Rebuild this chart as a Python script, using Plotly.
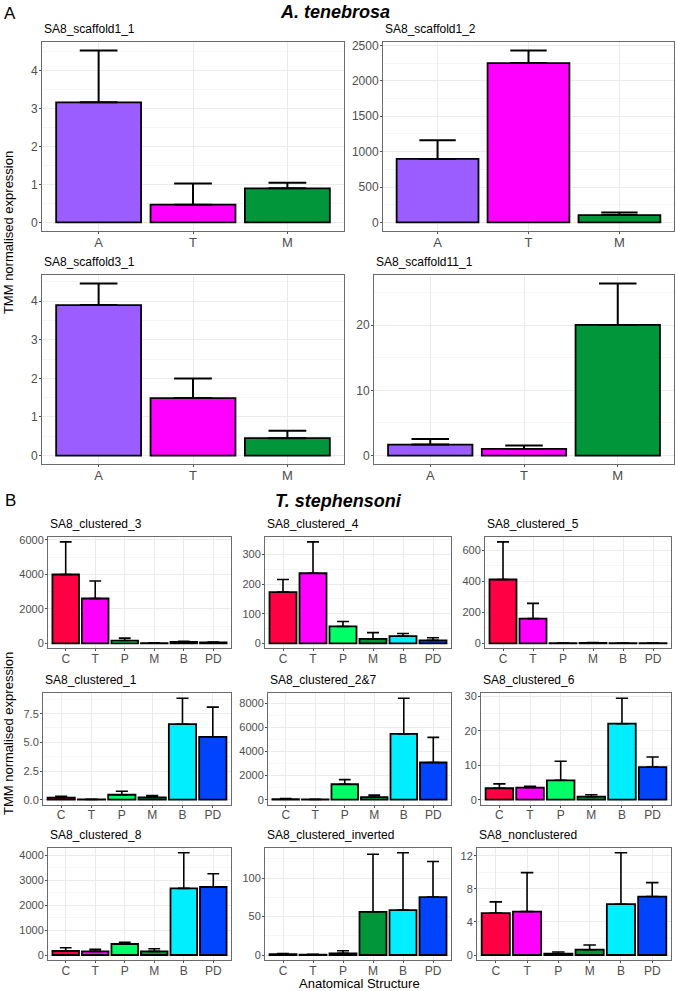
import plotly.graph_objects as go

W, H = 676, 991

# ---------------- Data ----------------
# Panel A: A. tenebrosa
a_categories = ["A", "T", "M"]
a_colors = ["#9B5DFF", "#FF00FF", "#009639"]

scaffold1_1_mean = [3.17, 0.47, 0.90]
scaffold1_1_upper = [4.54, 1.03, 1.05]
scaffold1_2_mean = [897, 2252, 104]
scaffold1_2_upper = [1163, 2430, 140]
scaffold3_1_mean = [3.90, 1.49, 0.45]
scaffold3_1_upper = [4.46, 2.00, 0.645]
scaffold11_1_mean = [1.68, 1.02, 20.05]
scaffold11_1_upper = [2.54, 1.53, 26.4]

# Panel B: T. stephensoni
b_categories = ["C", "T", "P", "M", "B", "PD"]
b_colors = ["#FF0044", "#FF00FF", "#00FF66", "#009639", "#00EEFF", "#0044FF"]

clustered_3_mean = [3990, 2600, 160, 12, 80, 50]
clustered_3_upper = [5880, 3610, 300, 28, 110, 75]
clustered_4_mean = [173, 237, 57, 15, 24, 10]
clustered_4_upper = [216, 343, 74, 36, 33, 19]
clustered_5_mean = [411, 159, 1, 2, 1, 1]
clustered_5_upper = [653, 257, 2, 5, 2, 2]
clustered_1_mean = [0.18, 0.02, 0.43, 0.20, 6.58, 5.48]
clustered_1_upper = [0.30, 0.03, 0.74, 0.35, 8.84, 8.07]
clustered_2_7_mean = [50, 20, 1279, 213, 5459, 3082]
clustered_2_7_upper = [90, 30, 1664, 377, 8410, 5164]
clustered_6_mean = [3.33, 3.53, 5.63, 0.86, 22.1, 9.48]
clustered_6_upper = [4.6, 3.9, 11.2, 1.44, 29.5, 12.4]
clustered_8_mean = [160, 147, 440, 147, 2667, 2720]
clustered_8_upper = [293, 227, 507, 253, 4093, 3253]
clustered_inv_mean = [1.0, 0.5, 2.1, 56.2, 58.4, 75.3]
clustered_inv_upper = [2.0, 1.0, 5.6, 131, 133, 121.5]
nonclustered_mean = [5.06, 5.25, 0.16, 0.64, 6.14, 7.06]
nonclustered_upper = [6.42, 9.95, 0.36, 1.20, 12.36, 8.75]

# ---------------- Layout of panels (pixel boxes: x0, x1, y0, y1) ----------------
panels = [
    ("SA8_scaffold1_1", a_categories, a_colors, scaffold1_1_mean, scaffold1_1_upper, (42, 344, 39, 229), 1, None, 2.0, 12),
    ("SA8_scaffold1_2", a_categories, a_colors, scaffold1_2_mean, scaffold1_2_upper, (383, 674, 39, 229), 500, None, 2.0, 12),
    ("SA8_scaffold3_1", a_categories, a_colors, scaffold3_1_mean, scaffold3_1_upper, (42, 344, 273, 463), 1, None, 2.0, 12),
    ("SA8_scaffold11_1", a_categories, a_colors, scaffold11_1_mean, scaffold11_1_upper, (374, 674, 273, 463), 10, None, 2.0, 12),
    ("SA8_clustered_3", b_categories, b_colors, clustered_3_mean, clustered_3_upper, (48, 231, 536, 648), 2000, None, 1.6, 11),
    ("SA8_clustered_4", b_categories, b_colors, clustered_4_mean, clustered_4_upper, (265, 451, 536, 648), 100, None, 1.6, 11),
    ("SA8_clustered_5", b_categories, b_colors, clustered_5_mean, clustered_5_upper, (485, 671, 536, 648), 200, None, 1.6, 11),
    ("SA8_clustered_1", b_categories, b_colors, clustered_1_mean, clustered_1_upper, (43, 231, 693, 805), 2.5, ".1f", 1.6, 11),
    ("SA8_clustered_2&7", b_categories, b_colors, clustered_2_7_mean, clustered_2_7_upper, (268, 451, 693, 805), 2000, None, 1.6, 11),
    ("SA8_clustered_6", b_categories, b_colors, clustered_6_mean, clustered_6_upper, (481, 671, 693, 805), 10, None, 1.6, 11),
    ("SA8_clustered_8", b_categories, b_colors, clustered_8_mean, clustered_8_upper, (48, 231, 848, 961), 1000, None, 1.6, 11),
    ("SA8_clustered_inverted", b_categories, b_colors, clustered_inv_mean, clustered_inv_upper, (265, 451, 848, 961), 50, None, 1.6, 11),
    ("SA8_nonclustered", b_categories, b_colors, nonclustered_mean, nonclustered_upper, (477, 671, 848, 961), 4, None, 1.6, 11),
]

FONT = "Liberation Sans, Arial, sans-serif"
fig = go.Figure()
layout = dict(
    width=W, height=H,
    margin=dict(l=0, r=0, t=0, b=0),
    paper_bgcolor="white", plot_bgcolor="white",
    showlegend=False, bargap=0.1,
    font=dict(family=FONT, color="black"),
)
annotations = []

for i, (name, cats, cols, mean, upper, box, dtick, tfmt, thick, fs) in enumerate(panels, start=1):
    x0, x1, y0, y1 = box
    n = len(cats)
    unit_px = (x1 - x0) / (n + 0.2)
    xa = "x" if i == 1 else f"x{i}"
    ya = "y" if i == 1 else f"y{i}"
    fig.add_trace(go.Bar(
        x=cats, y=mean, xaxis=xa, yaxis=ya,
        marker=dict(color=cols, line=dict(color="black", width=1.8)),
        error_y=dict(type="data", symmetric=False,
                     array=[u - m for u, m in zip(upper, mean)],
                     arrayminus=[0] * n,
                     color="black", thickness=thick, width=0.2 * unit_px),
        hoverinfo="skip",
    ))
    top = max(upper)
    xkey = "xaxis" if i == 1 else f"xaxis{i}"
    ykey = "yaxis" if i == 1 else f"yaxis{i}"
    layout[xkey] = dict(
        domain=[x0 / W, x1 / W], anchor=ya, type="category",
        categoryorder="array", categoryarray=cats,
        range=[-0.6, n - 0.4],
        showgrid=True, gridcolor="#EBEBEB", gridwidth=1,
        showline=True, mirror=True, linecolor="#6b6b6b", linewidth=1,
        ticks="outside", ticklen=2, tickcolor="#4d4d4d",
        ticklabelstandoff=-3,
        tickfont=dict(size=fs + 1, color="#4d4d4d", family=FONT),
        zeroline=False, fixedrange=True,
    )
    yax = dict(
        domain=[1 - y1 / H, 1 - y0 / H], anchor=xa,
        range=[-0.05 * top, 1.05 * top],
        tickmode="linear", tick0=0, dtick=dtick,
        showgrid=True, gridcolor="#EBEBEB", gridwidth=1,
        minor=dict(dtick=dtick / 2, tick0=0, showgrid=True, gridcolor="#F5F5F5", gridwidth=0.6),
        showline=True, mirror=True, linecolor="#6b6b6b", linewidth=1,
        ticks="outside", ticklen=2, tickcolor="#4d4d4d",
        ticklabelstandoff=-1,
        tickfont=dict(size=fs, color="#4d4d4d", family=FONT),
        zeroline=False, fixedrange=True,
    )
    if tfmt:
        yax["tickformat"] = tfmt
    layout[ykey] = yax
    annotations.append(dict(
        text=name, x=x0 / W, y=1 - (y0 - 4) / H, xref="paper", yref="paper",
        xanchor="left", yanchor="bottom", showarrow=False,
        font=dict(size=12, color="black", family=FONT),
    ))

def paper_text(text, xp, yp, size, **kw):
    d = dict(text=text, x=xp / W, y=1 - yp / H, xref="paper", yref="paper",
             xanchor="center", yanchor="middle", showarrow=False,
             font=dict(size=size, color="black", family=FONT))
    d.update(kw)
    return d

annotations += [
    paper_text("A", 10, 11, 17),
    paper_text("B", 10, 500, 17),
    paper_text("<b><i>A. tenebrosa</i></b>", 335, 9, 18),
    paper_text("<b><i>T. stephensoni</i></b>", 339, 500, 18),
    paper_text("TMM normalised expression", 8, 231, 13, textangle=-90),
    paper_text("TMM normalised expression", 8, 734, 13, textangle=-90),
    paper_text("Anatomical Structure", 359, 984, 13),
]
layout["annotations"] = annotations
fig.update_layout(**layout)
fig.write_html(
    "out.html",
    config={"displayModeBar": False},
    post_script="document.body.style.margin='0';document.body.style.overflow='hidden';",
)
